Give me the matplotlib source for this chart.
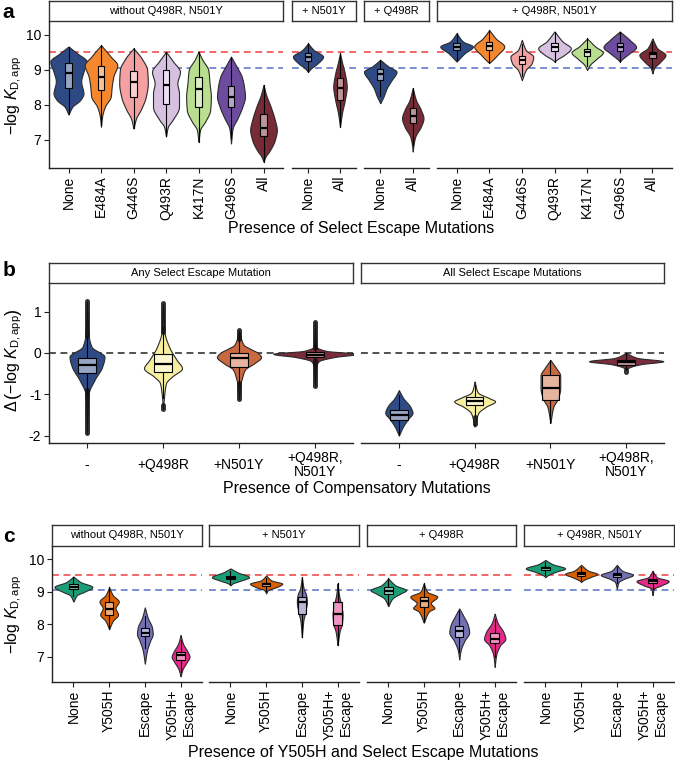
import numpy as np
import matplotlib
matplotlib.use("Agg")
import matplotlib.pyplot as plt
from matplotlib.patches import Rectangle

plt.rcParams['font.family'] = ['Liberation Sans', 'DejaVu Sans']
plt.rcParams['mathtext.fontset'] = 'custom'
plt.rcParams['mathtext.rm'] = 'Liberation Sans'
plt.rcParams['mathtext.it'] = 'Liberation Sans:italic'

W, H = 675, 763

## ---------------- DATA ----------------
# panel a : violins given as (y knots, half widths), boxes as (q1, median, q3)
A_GROUPS = ["without Q498R, N501Y", "+ N501Y", "+ Q498R", "+ Q498R, N501Y"]
A_CATS_LONG = ["None", "E484A", "G446S", "Q493R", "K417N", "G496S", "All"]
A_CATS_SHORT = ["None", "All"]
A_COLORS = {"None": "#2E4A85", "E484A": "#F5872E", "G446S": "#F4A1A1", "Q493R": "#D7C1E1",
            "K417N": "#B9DE8F", "G496S": "#6D4B9F", "All": "#772B36"}

A1_Y = [[7.73, 7.95, 8.14, 8.33, 8.67, 8.95, 9.24, 9.48, 9.67],
        [7.38, 7.7, 7.95, 8.24, 8.52, 8.81, 9.14, 9.38, 9.71],
        [7.33, 7.62, 7.86, 8.24, 8.62, 9.0, 9.33, 9.62],
        [7.1, 7.38, 7.57, 7.95, 8.33, 8.62, 8.95, 9.24, 9.52],
        [6.95, 7.29, 7.52, 7.86, 8.24, 8.62, 9.0, 9.29, 9.52],
        [6.9, 7.33, 7.62, 7.95, 8.24, 8.52, 8.81, 9.1, 9.38],
        [6.38, 6.52, 6.71, 7.0, 7.29, 7.57, 7.95, 8.29, 8.57]]
A1_W = [[0, .12, .36, .46, .39, .46, .56, .26, 0],
        [0, .04, .12, .30, .33, .38, .50, .30, 0],
        [0, .08, .22, .38, .44, .42, .25, 0],
        [0, .06, .20, .40, .40, .35, .43, .22, 0],
        [0, .05, .20, .36, .38, .34, .30, .12, 0],
        [0, .05, .20, .35, .43, .40, .33, .17, 0],
        [0, .06, .20, .35, .41, .35, .22, .08, 0]]
A1_BOX = [(8.48, 8.9, 9.19), (8.43, 8.81, 9.1), (8.22, 8.65, 8.97), (8.03, 8.57, 9.0),
          (7.93, 8.45, 8.81), (7.95, 8.24, 8.54), (7.1, 7.35, 7.73)]

A2_Y = [[8.95, 9.05, 9.19, 9.38, 9.57, 9.76],
        [7.38, 7.76, 8.14, 8.52, 8.9, 9.19, 9.48]]
A2_W = [[0, .10, .30, .47, .18, 0],
        [0, .06, .15, .21, .15, .07, 0]]
A2_BOX = [(9.27, 9.38, 9.48), (8.14, 8.48, 8.76)]

A3_Y = [[8.05, 8.24, 8.48, 8.71, 8.95, 9.1, 9.29],
        [6.67, 6.9, 7.1, 7.38, 7.62, 7.86, 8.14, 8.48]]
A3_W = [[0, .10, .20, .35, .50, .25, 0],
        [0, .03, .08, .25, .33, .25, .10, 0]]
A3_BOX = [(8.71, 8.89, 9.02), (7.48, 7.69, 7.9)]

A4_Y = [[9.24, 9.29, 9.48, 9.67, 9.81, 10.05],
        [9.2, 9.24, 9.43, 9.67, 9.9, 10.14],
        [8.71, 9.0, 9.19, 9.38, 9.57, 9.86],
        [9.24, 9.29, 9.43, 9.62, 9.81, 10.1],
        [9.0, 9.14, 9.33, 9.5, 9.67, 9.9],
        [9.24, 9.29, 9.48, 9.65, 9.86, 10.1],
        [8.9, 9.05, 9.24, 9.43, 9.62, 9.9]]
A4_W = [[0, .05, .25, .50, .20, 0],
        [0, .05, .25, .46, .20, 0],
        [0, .12, .30, .35, .12, 0],
        [0, .06, .30, .50, .25, 0],
        [0, .08, .30, .48, .25, 0],
        [0, .05, .30, .50, .30, 0],
        [0, .05, .25, .40, .15, 0]]
A4_BOX = [(9.57, 9.67, 9.76), (9.57, 9.69, 9.81), (9.17, 9.29, 9.4), (9.55, 9.67, 9.76),
          (9.4, 9.5, 9.6), (9.55, 9.67, 9.76), (9.33, 9.45, 9.52)]

A_RED, A_BLUE = 9.52, 9.06

# panel b
B_GROUPS = ["Any Select Escape Mutation", "All Select Escape Mutations"]
B_CATS = ["-", "+Q498R", "+N501Y", "+Q498R,\nN501Y"]
B_COLORS = ["#2F4B86", "#F8EF9E", "#C9693F", "#7B2B39"]

B1_Y = [[-1.95, -1.0, -0.65, -0.33, -0.09, 0.15, 0.45, 1.25],
        [-1.35, -0.95, -0.73, -0.57, -0.37, -0.17, 0.15, 0.5, 1.2],
        [-1.12, -0.75, -0.6, -0.4, -0.25, -0.1, 0.0, 0.1, 0.2, 0.55],
        [-0.8, -0.3, -0.2, -0.1, -0.02, 0.05, 0.15, 0.75]]
B1_W = [[0, .02, .10, .20, .23, .06, .02, 0],
        [0, .02, .04, .12, .25, .18, .08, .02, 0],
        [0, .02, .04, .08, .20, .29, .25, .15, .06, 0],
        [0, .02, .05, .25, .55, .15, .02, 0]]
B1_BOX = [(-0.49, -0.29, -0.13), (-0.45, -0.27, -0.02), (-0.33, -0.13, 0.0), (-0.1, -0.05, 0.03)]
B1_OUT = [[(-1.93, -0.9), (0.4, 1.25)], [(-1.35, -1.27), (0.52, 1.2)],
          [(-1.12, -0.72), (0.34, 0.56)], [(-0.8, -0.16), (0.12, 0.75)]]

B2_Y = [[-2.0, -1.8, -1.6, -1.45, -1.3, -1.1, -0.9],
        [-1.78, -1.45, -1.3, -1.17, -1.1, -0.95, -0.69],
        [-1.69, -1.3, -1.1, -0.85, -0.55, -0.35, -0.17],
        [-0.4, -0.35, -0.27, -0.2, -0.12, 0.0]]
B2_W = [[0, .05, .12, .18, .15, .06, 0],
        [0, .05, .15, .27, .20, .04, 0],
        [0, .04, .10, .13, .13, .07, 0],
        [0, .04, .20, .49, .15, 0]]
B2_BOX = [(-1.62, -1.5, -1.38), (-1.26, -1.16, -1.07), (-1.14, -0.84, -0.53), (-0.28, -0.22, -0.17)]
B2_OUT = [[], [(-1.72, -1.55)], [], [(-0.47, -0.4)]]

# panel c
C_GROUPS = ["without Q498R, N501Y", "+ N501Y", "+ Q498R", "+ Q498R, N501Y"]
C_CATS = ["None", "Y505H", "Escape", "Y505H+\nEscape"]
C_COLORS = ["#1B9E77", "#D95F02", "#7570B3", "#E7298A"]

C1_Y = [[8.7, 8.9, 9.0, 9.15, 9.3, 9.47],
        [7.85, 8.1, 8.3, 8.5, 8.7, 8.9, 9.14],
        [6.79, 7.2, 7.5, 7.7, 7.9, 8.2, 8.52],
        [6.4, 6.6, 6.85, 7.0, 7.15, 7.4, 7.67]]
C1_W = [[0, .10, .30, .53, .20, 0],
        [0, .10, .25, .18, .27, .10, 0],
        [0, .06, .15, .22, .20, .08, 0],
        [0, .05, .18, .25, .20, .07, 0]]
C1_BOX = [(9.09, 9.16, 9.24), (8.28, 8.47, 8.7), (7.64, 7.72, 7.89), (6.9, 7.05, 7.15)]

C2_Y = [[9.2, 9.25, 9.35, 9.45, 9.6, 9.72],
        [8.95, 9.05, 9.15, 9.25, 9.35, 9.5],
        [7.6, 8.1, 8.4, 8.7, 8.9, 9.1, 9.45],
        [7.36, 7.8, 8.0, 8.3, 8.6, 8.9, 9.26]]
C2_W = [[0, .05, .30, .52, .20, 0],
        [0, .05, .30, .45, .15, 0],
        [0, .04, .10, .14, .12, .05, 0],
        [0, .06, .12, .14, .10, .04, 0]]
C2_BOX = [(9.38, 9.43, 9.48), (9.18, 9.23, 9.28), (8.33, 8.69, 8.85), (7.98, 8.33, 8.69)]

C3_Y = [[8.56, 8.8, 8.95, 9.05, 9.2, 9.41],
        [8.05, 8.4, 8.5, 8.65, 8.85, 9.0, 9.26],
        [6.92, 7.2, 7.5, 7.75, 7.95, 8.25, 8.49],
        [6.69, 7.05, 7.35, 7.55, 7.75, 8.05, 8.33]]
C3_W = [[0, .12, .35, .50, .20, 0],
        [0, .15, .30, .20, .38, .10, 0],
        [0, .04, .15, .28, .25, .12, 0],
        [0, .04, .15, .30, .25, .08, 0]]
C3_BOX = [(8.93, 9.03, 9.14), (8.54, 8.73, 8.85), (7.62, 7.79, 7.94), (7.43, 7.56, 7.72)]

C4_Y = [[9.45, 9.5, 9.62, 9.72, 9.85, 9.98],
        [9.3, 9.35, 9.45, 9.55, 9.65, 9.83],
        [9.1, 9.3, 9.4, 9.52, 9.65, 9.83],
        [8.9, 9.1, 9.2, 9.33, 9.45, 9.65]]
C4_W = [[0, .05, .30, .55, .20, 0],
        [0, .05, .25, .45, .20, 0],
        [0, .05, .20, .45, .15, 0],
        [0, .04, .25, .45, .12, 0]]
C4_BOX = [(9.67, 9.72, 9.77), (9.5, 9.55, 9.6), (9.45, 9.51, 9.57), (9.27, 9.33, 9.39)]

C_RED, C_BLUE = 9.52, 9.05

RED = "#EF3D3D"
BLUE = "#5670C6"
LINE = "#222222"


## ---------------- helpers ----------------
def px_axes(fig, x0, y0, x1, y1):
    return fig.add_axes([x0 / W, 1 - y1 / H, (x1 - x0) / W, (y1 - y0) / H])


def pchip(x, y, xn):
    # monotone cubic, only used to smooth the violin outline between knots
    x = np.asarray(x, float)
    y = np.asarray(y, float)
    h = np.diff(x)
    d = np.diff(y) / h
    m = np.zeros_like(y)
    for k in range(1, len(x) - 1):
        if d[k - 1] * d[k] > 0:
            w1 = 2 * h[k] + h[k - 1]
            w2 = h[k] + 2 * h[k - 1]
            m[k] = (w1 + w2) / (w1 / d[k - 1] + w2 / d[k])
    m[0] = d[0]
    m[-1] = d[-1]
    i = np.clip(np.searchsorted(x, xn) - 1, 0, len(h) - 1)
    t = (xn - x[i]) / h[i]
    return ((2 * t**3 - 3 * t**2 + 1) * y[i] + (t**3 - 2 * t**2 + t) * h[i] * m[i]
            + (-2 * t**3 + 3 * t**2) * y[i + 1] + (t**3 - t**2) * h[i] * m[i + 1])


def violin(ax, c, ys, ws, color, box, bw, outl=()):
    yy = np.linspace(ys[0], ys[-1], 300)
    ww = np.clip(pchip(ys, ws, yy), 0, None)
    ax.fill_betweenx(yy, c - ww, c + ww, facecolor=color, edgecolor="#2a2a2a", lw=0.8, zorder=2)
    q1, med, q3 = box
    iqr = q3 - q1
    lo = max(ys[0], q1 - 1.5 * iqr)
    hi = min(ys[-1], q3 + 1.5 * iqr)
    ax.plot([c, c], [lo, q1], color="black", lw=0.8, zorder=3)
    ax.plot([c, c], [q3, hi], color="black", lw=0.8, zorder=3)
    for a, b in outl:
        ax.plot([c, c], [a, b], color="#111111", lw=3.6, alpha=0.85,
                solid_capstyle="round", zorder=3)
    ax.add_patch(Rectangle((c - bw / 2, q1), bw, iqr, facecolor=(1, 1, 1, 0.5),
                           edgecolor="black", lw=0.8, zorder=4))
    ax.plot([c - bw / 2, c + bw / 2], [med, med], color="black", lw=1.6,
            solid_capstyle="butt", zorder=5)


def strip(fig, x0, y0, x1, y1, text, size=8):
    s = px_axes(fig, x0, y0, x1, y1)
    s.set_xticks([])
    s.set_yticks([])
    for sp in s.spines.values():
        sp.set_color("#333333")
        sp.set_linewidth(1.0)
    s.text(0.5, 0.5, text, ha="center", va="center", fontsize=size, transform=s.transAxes)


def facet(ax, labels, xlim, ylim, first, yticks, rot):
    ax.set_xlim(xlim)
    ax.set_ylim(ylim)
    ax.spines["top"].set_visible(False)
    ax.spines["right"].set_visible(False)
    ax.spines["bottom"].set_color(LINE)
    ax.spines["bottom"].set_linewidth(1.0)
    ax.set_xticks(range(1, len(labels) + 1))
    if rot:
        ax.set_xticklabels(labels, rotation=90, va="top", ha="center", multialignment="right")
        ax.tick_params(axis="x", length=3.5, width=0.8, color=LINE, labelsize=10, pad=2)
    else:
        ax.set_xticklabels(labels, va="center", linespacing=1.0)
        ax.tick_params(axis="x", length=3.5, width=0.8, color=LINE, labelsize=10, pad=12)
    if first:
        ax.spines["left"].set_color(LINE)
        ax.spines["left"].set_linewidth(1.0)
        ax.set_yticks(yticks)
        ax.tick_params(axis="y", length=3.5, width=0.8, color=LINE, labelsize=10, pad=2)
    else:
        ax.spines["left"].set_visible(False)
        ax.tick_params(axis="y", left=False, labelleft=False)
    ax.set_facecolor("none")


fig = plt.figure(figsize=(W / 100, H / 100), dpi=100)

## ---------------- panel a ----------------
a_pos = [(49, 283), (292, 356), (364, 429), (437, 672)]
a_data = [(A_CATS_LONG, A1_Y, A1_W, A1_BOX), (A_CATS_SHORT, A2_Y, A2_W, A2_BOX),
          (A_CATS_SHORT, A3_Y, A3_W, A3_BOX), (A_CATS_LONG, A4_Y, A4_W, A4_BOX)]
for k, ((x0, x1), (cats, ys, ws, bx)) in enumerate(zip(a_pos, a_data)):
    ax = px_axes(fig, x0, 22, x1, 168)
    xlim = (0.4, len(cats) + 0.6) if len(cats) > 2 else (0.5, 2.5)
    facet(ax, cats, xlim, (6.2, 10.37), k == 0, [7, 8, 9, 10], True)
    ax.axhline(A_RED, color=RED, ls=(0, (4.5, 3)), lw=1.1, zorder=1)
    ax.axhline(A_BLUE, color=BLUE, ls=(0, (4.5, 3)), lw=1.1, zorder=1)
    for i, cat in enumerate(cats):
        violin(ax, i + 1, ys[i], ws[i], A_COLORS[cat], bx[i], 0.2)
    strip(fig, x0, 1, x1, 21, A_GROUPS[k])

fig.text(361 / W, 1 - 228 / H, "Presence of Select Escape Mutations", ha="center", va="center", fontsize=11.5)
fig.text(14 / W, 1 - 95 / H, "\u2212log $K_{\\mathrm{D,app}}$", rotation=90, ha="center", va="center", fontsize=11.5)
fig.text(2 / W, 1 - 13 / H, "a", fontsize=15, fontweight="bold", va="center")

## ---------------- panel b ----------------
b_pos = [(49, 353), (361, 664)]
b_data = [(B1_Y, B1_W, B1_BOX, B1_OUT), (B2_Y, B2_W, B2_BOX, B2_OUT)]
for k, ((x0, x1), (ys, ws, bx, ou)) in enumerate(zip(b_pos, b_data)):
    ax = px_axes(fig, x0, 283, x1, 443)
    facet(ax, B_CATS, (0.5, 4.5), (-2.18, 1.695), k == 0, [-2, -1, 0, 1], False)
    if k == 0:
        ax.set_yticklabels(["-2", "-1", "0", "1"])
    ax.axhline(0, color="#222222", ls=(0, (4.5, 3)), lw=1.1, zorder=1)
    for i in range(len(B_CATS)):
        violin(ax, i + 1, ys[i], ws[i], B_COLORS[i], bx[i], 0.23, ou[i])
    strip(fig, x0, 263, x1, 283, B_GROUPS[k])

fig.text(357 / W, 1 - 488 / H, "Presence of Compensatory Mutations", ha="center", va="center", fontsize=11.5)
fig.text(14 / W, 1 - 360 / H, "$\\Delta\\,\\left(\\mathrm{-log}\\ K_{\\mathrm{D,app}}\\right)$",
         rotation=90, ha="center", va="center", fontsize=11.5)
fig.text(3 / W, 1 - 270 / H, "b", fontsize=15, fontweight="bold", va="center")

## ---------------- panel c ----------------
c_pos = [(52, 202), (209, 359), (367, 516), (524, 674)]
c_data = [(C1_Y, C1_W, C1_BOX), (C2_Y, C2_W, C2_BOX), (C3_Y, C3_W, C3_BOX), (C4_Y, C4_W, C4_BOX)]
for k, ((x0, x1), (ys, ws, bx)) in enumerate(zip(c_pos, c_data)):
    ax = px_axes(fig, x0, 546, x1, 682)
    facet(ax, C_CATS, (0.4, 4.6), (6.225, 10.41), k == 0, [7, 8, 9, 10], True)
    ax.axhline(C_RED, color=RED, ls=(0, (4.5, 3)), lw=1.1, zorder=1)
    ax.axhline(C_BLUE, color=BLUE, ls=(0, (4.5, 3)), lw=1.1, zorder=1)
    for i in range(len(C_CATS)):
        violin(ax, i + 1, ys[i], ws[i], C_COLORS[i], bx[i], 0.24)
    strip(fig, x0, 525, x1, 546, C_GROUPS[k])

fig.text(363 / W, 1 - 753 / H, "Presence of Y505H and Select Escape Mutations", ha="center", va="center", fontsize=11.5)
fig.text(14 / W, 1 - 614 / H, "\u2212log $K_{\\mathrm{D,app}}$", rotation=90, ha="center", va="center", fontsize=11.5)
fig.text(3 / W, 1 - 537 / H, "c", fontsize=15, fontweight="bold", va="center")

fig.savefig("out.png", dpi=100)
